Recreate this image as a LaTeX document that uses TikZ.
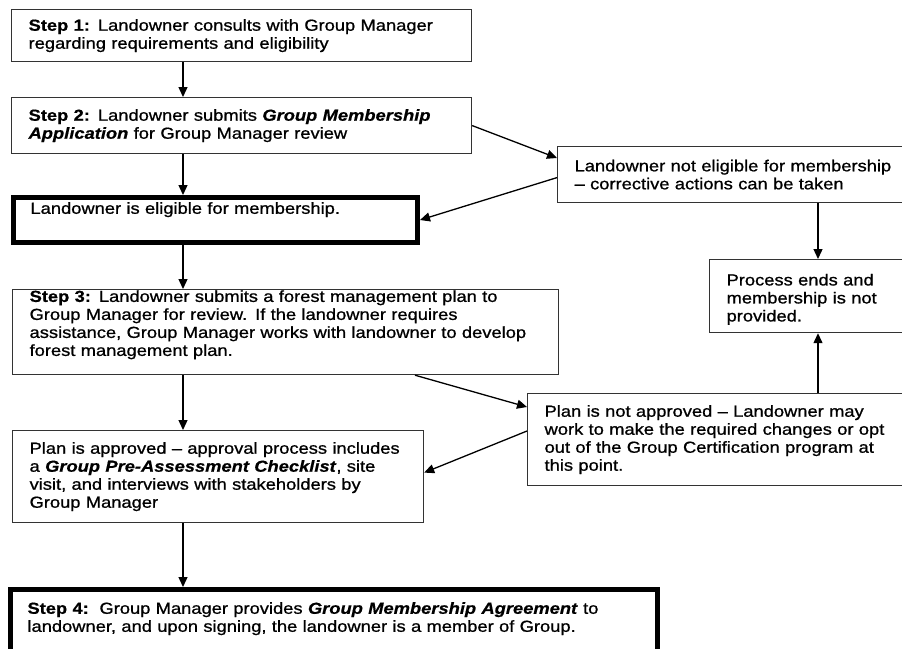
\documentclass[tikz,border=0pt]{standalone}
\usepackage{fontspec}
\setmainfont[FakeStretch=1.145, UprightFeatures={FakeBold=0.9}, BoldFeatures={FakeBold=0.6}, BoldItalicFeatures={FakeBold=0.6}]{Liberation Sans}
\usepackage{tikz}
\usetikzlibrary{arrows.meta}
\usetikzlibrary{calc}

\begin{document}
\begin{tikzpicture}[x=1pt, y=-1pt, >={Triangle[length=10pt,width=9pt]},
	box/.style={draw=black!80, line width=1.2pt, anchor=north west, align=left, inner xsep=17pt, inner ysep=0pt, font=\fontsize{16}{18}\selectfont},
	thickbox/.style={box, draw=black, line width=5pt}]
\useasboundingbox (0,0) rectangle (902,648);
\clip (0,0) rectangle (902,648);
\coordinate (spine) at (183,0);
\coordinate (side) at (818,0);

%left column
\node[box, text width=426pt, minimum height=52pt] (s1) at (11,9)
	{\textbf{Step 1:} Landowner consults with Group Manager\\regarding requirements and eligibility};
\node[box, text width=426pt, minimum height=56pt] (s2) at (11,97)
	{\textbf{Step 2:} Landowner submits \textbf{\textit{Group Membership}}\\\textbf{\textit{Application}} for Group Manager review};
\node[thickbox, text width=370pt, minimum height=45pt] (elig) at (11,195)
	{Landowner is eligible for membership.\\[6pt]\mbox{}};
\node[box, text width=512pt, minimum height=85pt] (s3) at (12,289)
	{\textbf{Step 3:} Landowner submits a forest management plan to\\Group Manager for review. If the landowner requires\\assistance, Group Manager works with landowner to develop\\forest management plan.\\\mbox{}};
\node[box, text width=377pt, minimum height=92pt] (appr) at (12,430)
	{Plan is approved – approval process includes\\a \textbf{\textit{Group Pre-Assessment Checklist}}, site\\visit, and interviews with stakeholders by\\Group Manager};
\node[thickbox, text width=613pt, minimum height=73pt] (s4) at (8,587)
	{\textbf{Step 4:}\ \ Group Manager provides \textbf{\textit{Group Membership Agreement}} to\\landowner, and upon signing, the landowner is a member of Group.\\\mbox{}};

%right column
\node[box, text width=366pt, minimum height=56pt] (notelig) at (557,146)
	{Landowner not eligible for membership\\– corrective actions can be taken};
\node[box, text width=216pt, minimum height=73pt] (ends) at (709,259)
	{\mbox{}\\Process ends and\\membership is not\\provided.};
\node[box, text width=400pt, minimum height=92pt] (notappr) at (527,393)
	{Plan is not approved – Landowner may\\work to make the required changes or opt\\out of the Group Certification program at\\this point.};

\path[->, line width=1.3pt]
(s1.south -| spine) edge (s2.north -| spine)
(s2.south -| spine) edge (elig.north -| spine)
(elig.south -| spine) edge (s3.north -| spine)
(s3.south -| spine) edge (appr.north -| spine)
(appr.south -| spine) edge (s4.north -| spine)
(s2.east) edge ($(notelig.north west)+(0,12)$)
($(notelig.west)+(0,3)$) edge (elig.east)
(notelig.south -| side) edge (ends.north -| side)
(notappr.north -| side) edge (ends.south -| side)
($(s3.south west)+(403,0)$) edge ($(notappr.north west)+(0,14)$)
($(notappr.north west)+(0,38)$) edge ($(appr.east)+(0,-4)$);
\end{tikzpicture}
\end{document}
